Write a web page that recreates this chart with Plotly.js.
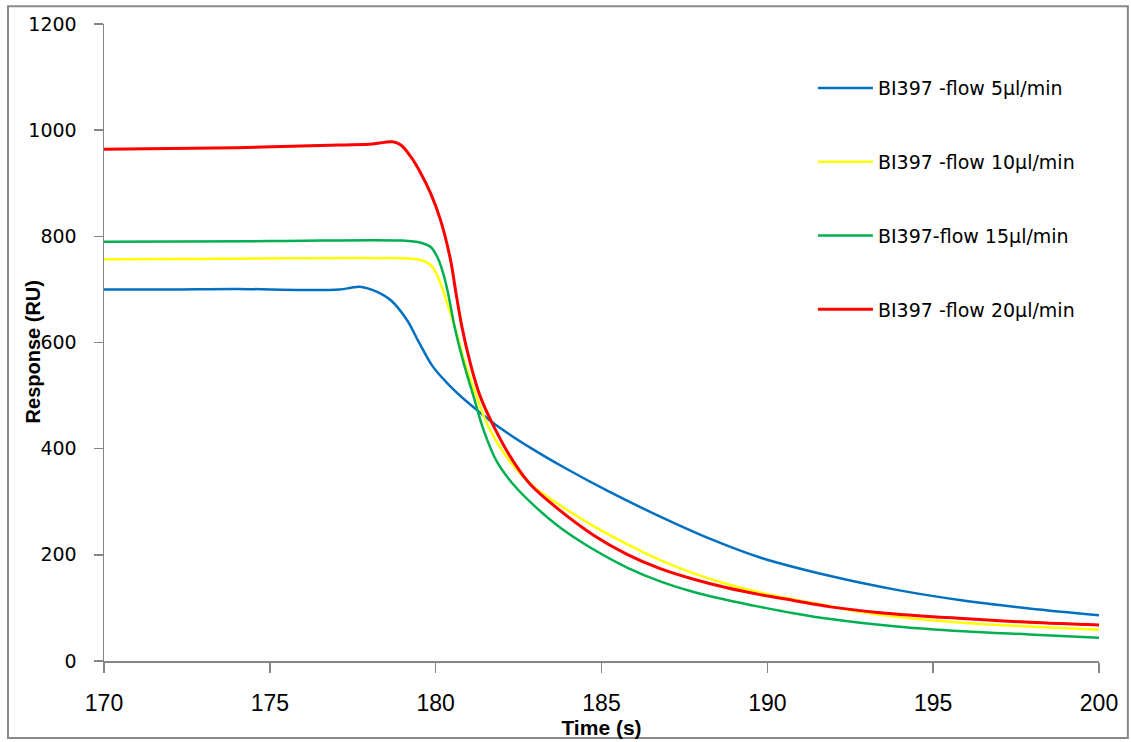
<!DOCTYPE html>
<html>
<head>
<meta charset="utf-8">
<script src="https://cdn.plot.ly/plotly-3.0.1.min.js"></script>
<style>html,body{margin:0;padding:0;background:#fff;}#chart{width:1131px;height:742px;}</style>
</head>
<body>
<div id="chart"></div>
<script>
// Series names
const seriesNames = [
  "BI397 -flow 5µl/min",
  "BI397 -flow 10µl/min",
  "BI397-flow 15µl/min",
  "BI397 -flow 20µl/min"
];

// Blue: 5 µl/min
const tBlue = [170,172,174,176,177.1,177.45,177.7,177.95,178.25,178.64,179.14,179.44,179.9,180.34,180.84,181.34,181.85,182.85,183.86,185.26,186.77,188.28,189.78,191.9,193.9,195.9,197.9,200];
const vBlue = [700,700,701,699,700,703,705,702,695,680,642,607,556,524,494,468,443,402,365,318,272,230,195,160,134,114,99,86];

// Yellow: 10 µl/min
const tYellow = [170,174,178,179.5,179.85,180.05,180.2,180.4,180.64,180.89,181.24,181.6,182.25,182.95,183.96,184.76,185.77,186.77,187.78,188.78,189.78,190.79,191.9,193.4,195.9,197.9,200];
const vYellow = [757,758,759,756,746,726,702,664,616,560,497,440,375,329,285,254,220,190,165,145,129,116,103,87,72,65,59];

// Green: 15 µl/min
const tGreen = [170,175,179,179.55,179.85,180.05,180.2,180.35,180.59,180.84,181.14,181.44,181.85,182.35,183.05,183.76,184.76,185.77,186.77,187.78,188.78,189.78,190.79,191.9,193.9,195.9,197.9,200];
const vGreen = [790,791,792,788,780,761,736,700,624,562,499,436,375,332,288,251,210,176,150,130,115,102,90,79,65,56,50,44];

// Red: 20 µl/min
const tRed = [170,174,177.1,178.1,178.45,178.7,178.95,179.25,179.55,179.85,180.15,180.45,180.6,180.79,181.04,181.34,181.8,182.35,182.85,183.66,184.76,185.77,186.77,187.78,188.78,189.78,190.79,191.9,193.4,195.9,197.9,200];
const vRed = [964,967,972,974,977,978,972,950,919,881,830,755,698,630,562,499,436,375,333,288,237,201,174,154,138,125,114,102,91,80,73,68];

const colors = ["#0070C0", "#FFFF00", "#00B050", "#FF0000"];
const widths = [2.5, 2.5, 2.5, 3];
const xs = [tBlue, tYellow, tGreen, tRed];
const ys = [vBlue, vYellow, vGreen, vRed];

const traces = seriesNames.map((name, i) => ({
  type: "scatter",
  mode: "lines",
  name: name,
  x: xs[i],
  y: ys[i],
  legendgroup: "g" + i,
  line: {color: colors[i], width: widths[i], shape: "spline", smoothing: 1.0}
}));

const axisColor = "#868686";

const layout = {
  width: 1131,
  height: 742,
  margin: {l: 104, r: 32, t: 24, b: 81},
  paper_bgcolor: "#ffffff",
  plot_bgcolor: "#ffffff",
  showlegend: true,
  legend: {
    x: 0.7125, y: 0.929, xanchor: "left", yanchor: "top",
    bgcolor: "rgba(0,0,0,0)",
    tracegroupgap: 46,
    itemwidth: 55,
    font: {family: "DejaVu Sans", size: 19, color: "#000"}
  },
  xaxis: {
    range: [170, 200],
    tickmode: "linear", tick0: 170, dtick: 5,
    showgrid: false, zeroline: false,
    showline: true, linecolor: axisColor, linewidth: 1.5,
    ticks: "outside", ticklen: 10, tickcolor: axisColor, tickwidth: 1.5,
    ticklabelstandoff: 11,
    tickfont: {family: "Liberation Sans", size: 23, color: "#000"},
    title: {text: "Time (s)", font: {family: "Liberation Sans", size: 21, color: "#000", weight: "bold"}, standoff: 0}
  },
  yaxis: {
    range: [0, 1200],
    tickmode: "linear", tick0: 0, dtick: 200,
    showgrid: false, zeroline: false,
    showline: true, linecolor: axisColor, linewidth: 1.5,
    ticks: "outside", ticklen: 9, tickcolor: axisColor, tickwidth: 1.5,
    ticklabelstandoff: 13,
    tickfont: {family: "DejaVu Sans", size: 19, color: "#000"}
  },
  annotations: [{
    text: "Response (RU)", xref: "paper", yref: "paper",
    x: -0.0714, y: 0.486, xanchor: "center", yanchor: "middle",
    textangle: -90, showarrow: false,
    font: {family: "Liberation Sans", size: 20, color: "#000", weight: "bold"}
  }],
  shapes: [{
    type: "rect", xref: "paper", yref: "paper",
    x0: -0.0965, x1: 1.029, y0: -0.121, y1: 1.028,
    line: {color: "#888888", width: 2}, fillcolor: "rgba(0,0,0,0)", layer: "below"
  }]
};

Plotly.newPlot("chart", traces, layout, {displayModeBar: false, staticPlot: true});
</script>
</body>
</html>
